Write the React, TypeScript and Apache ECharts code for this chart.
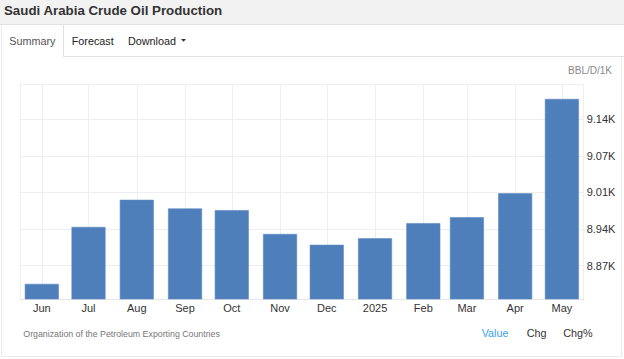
import React, { useEffect, useRef } from "react";
import * as echarts from "echarts";

const TITLE = "Saudi Arabia Crude Oil Production";
const TABS = ["Summary", "Forecast", "Download"];
const UNIT = "BBL/D/1K";
const SOURCE = "Organization of the Petroleum Exporting Countries";
const VIEW_OPTIONS = ["Value", "Chg", "Chg%"];

const MONTH_DATES = [
  "2024-06-01", "2024-07-01", "2024-08-01", "2024-09-01", "2024-10-01", "2024-11-01",
  "2024-12-01", "2025-01-01", "2025-02-01", "2025-03-01", "2025-04-01", "2025-05-01",
];
const MONTH_LABELS = ["Jun", "Jul", "Aug", "Sep", "Oct", "Nov", "Dec", "2025", "Feb", "Mar", "Apr", "May"];
const PRODUCTION = [8.839, 8.944, 8.994, 8.978, 8.975, 8.931, 8.911, 8.923, 8.951, 8.962, 9.006, 9.18];

const Y_TICK_VALUES = [8.8725, 8.94, 9.0075, 9.075, 9.1425];
const Y_TICK_LABELS = ["8.87K", "8.94K", "9.01K", "9.07K", "9.14K"];
const Y_MIN = 8.8111;
const Y_MAX = 9.207;
const X_MIN = "2024-05-18";
const X_MAX = "2025-05-15";

const FONT = "'Liberation Sans', Arial, Helvetica, sans-serif";
const DAY = 86400000;
const GRID = { left: 20, right: 40.3, top: 84.3, bottom: 60 };
const BAR_W = 34;

export default function App() {
  const ref = useRef<HTMLDivElement>(null);
  useEffect(() => {
    if (!ref.current) return;
    const chart = echarts.init(ref.current, undefined, { renderer: "svg" });
    const stamps = MONTH_DATES.map((d) => new Date(d + "T00:00:00Z").getTime());
    // ECharts widens a bar series' base axis by one bar width; pre-shrink so the final extent is the wanted one
    const xMin = new Date(X_MIN + "T00:00:00Z").getTime();
    const xMax = new Date(X_MAX + "T00:00:00Z").getTime();
    const axisLen = 624 - GRID.left - GRID.right;
    const wanted = xMax - xMin;
    const pad = (wanted - wanted * (1 - BAR_W / axisLen)) / 2;
    const border = "#ececec";
    chart.setOption({
      animation: false,
      useUTC: true,
      backgroundColor: "#ffffff",
      textStyle: { fontFamily: FONT },
      grid: GRID,
      xAxis: {
        type: "time",
        min: xMin + pad,
        max: xMax - pad,
        splitNumber: 12,
        minInterval: 28 * DAY,
        maxInterval: 31 * DAY,
        axisLine: { show: true, lineStyle: { color: "#e6e6e6", width: 1 } },
        axisTick: { show: false },
        axisLabel: {
          color: "#333",
          fontSize: 11,
          fontFamily: FONT,
          margin: 3,
          showMinLabel: true,
          showMaxLabel: true,
          hideOverlap: false,
          formatter: (v: number) => {
            const i = stamps.findIndex((s) => Math.abs(s - v) < DAY / 2);
            return i >= 0 ? MONTH_LABELS[i] : "";
          },
        },
        splitLine: { show: true, lineStyle: { color: "#eeeeee", width: 1 } },
      },
      yAxis: {
        type: "value",
        position: "right",
        min: Y_MIN,
        max: Y_MAX,
        axisLine: { show: false },
        axisTick: { show: false, customValues: [...Y_TICK_VALUES, Y_MAX] },
        axisLabel: {
          customValues: Y_TICK_VALUES,
          color: "#333",
          fontSize: 11,
          fontFamily: FONT,
          margin: 3,
          formatter: (v: number) => {
            const i = Y_TICK_VALUES.findIndex((t) => Math.abs(t - v) < 1e-6);
            return i >= 0 ? Y_TICK_LABELS[i] : "";
          },
        },
        splitLine: { show: true, lineStyle: { color: "#eeeeee", width: 1 } },
      },
      series: [
        {
          type: "bar",
          clip: true,
          barWidth: BAR_W,
          data: stamps.map((s, i) => [s, PRODUCTION[i]]),
          itemStyle: { color: "#4e7fbb", borderColor: "#5a8ac4", borderWidth: 0.6 },
        },
      ],
      graphic: [
        { type: "rect", silent: true, z: -10, shape: { x: 0, y: 0, width: 624, height: 24 }, style: { fill: "#f2f2f2" } },
        { type: "line", silent: true, shape: { x1: 0, y1: 24.5, x2: 624, y2: 24.5 }, style: { stroke: "#e2e2e2", lineWidth: 1 } },
        { type: "line", silent: true, shape: { x1: 1.5, y1: 25, x2: 1.5, y2: 357 }, style: { stroke: border, lineWidth: 1 } },
        { type: "line", silent: true, shape: { x1: 63.5, y1: 25, x2: 63.5, y2: 57 }, style: { stroke: "#e2e2e2", lineWidth: 1 } },
        { type: "line", silent: true, shape: { x1: 63.5, y1: 56.5, x2: 624, y2: 56.5 }, style: { stroke: "#e2e2e2", lineWidth: 1 } },
        { type: "line", silent: true, shape: { x1: 621.5, y1: 57, x2: 621.5, y2: 357 }, style: { stroke: border, lineWidth: 1 } },
        { type: "line", silent: true, shape: { x1: 1.5, y1: 356.5, x2: 621.5, y2: 356.5 }, style: { stroke: border, lineWidth: 1 } },
        {
          type: "text", x: 4, y: 10.5,
          style: { text: TITLE, font: `bold 13.3px ${FONT}`, fill: "#333", verticalAlign: "middle" },
        },
        {
          type: "text", x: 9.3, y: 40.7,
          style: { text: TABS[0], font: `10.8px ${FONT}`, fill: "#555", verticalAlign: "middle" },
        },
        {
          type: "text", x: 71.7, y: 40.7,
          style: { text: TABS[1], font: `10.8px ${FONT}`, fill: "#222", verticalAlign: "middle" },
        },
        {
          type: "text", x: 128, y: 40.7,
          style: { text: TABS[2], font: `10.8px ${FONT}`, fill: "#222", verticalAlign: "middle" },
        },
        {
          type: "polygon", silent: true,
          shape: { points: [[181, 39], [186, 39], [183.5, 41.8]] },
          style: { fill: "#333" },
        },
        {
          type: "text", x: 612, y: 70.3,
          style: { text: UNIT, font: `10px ${FONT}`, fill: "#888", align: "right", verticalAlign: "middle" },
        },
        {
          type: "text", x: 23.3, y: 334,
          style: { text: SOURCE, font: `8.8px ${FONT}`, fill: "#777", verticalAlign: "middle" },
        },
        {
          type: "text", x: 481.7, y: 333.3,
          style: { text: VIEW_OPTIONS[0], font: `10.8px ${FONT}`, fill: "#3a9ff0", verticalAlign: "middle" },
        },
        {
          type: "text", x: 526.7, y: 333.3,
          style: { text: VIEW_OPTIONS[1], font: `10.8px ${FONT}`, fill: "#333", verticalAlign: "middle" },
        },
        {
          type: "text", x: 563.3, y: 333.3,
          style: { text: VIEW_OPTIONS[2], font: `10.8px ${FONT}`, fill: "#333", verticalAlign: "middle" },
        },
      ],
    });
    return () => chart.dispose();
  }, []);
  return (
    <div style={{ position: "fixed", left: 0, top: 0, width: 624, height: 359, background: "#fff" }}>
      <div ref={ref} style={{ width: 624, height: 359 }} />
    </div>
  );
}
